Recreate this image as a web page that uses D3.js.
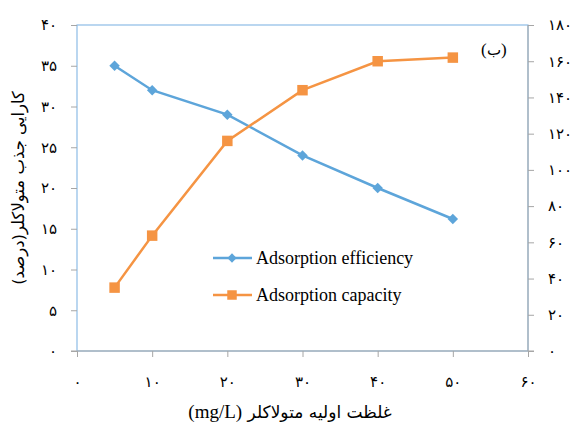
<!DOCTYPE html>
<html>
<head>
<meta charset="utf-8">
<script src="https://cdn.jsdelivr.net/npm/d3@7"></script>
<style>
  body { margin: 0; background: #fff; }
  text { fill: #000; }
</style>
</head>
<body>
<script>
// data
const concentration = [5, 10, 20, 30, 40, 50];
const efficiency = [35, 32, 29, 24, 20, 16.2];
const capacity = [35, 63.7, 116, 144, 160, 162];
const xTicks = [0, 10, 20, 30, 40, 50, 60];
const leftTicks = [0, 5, 10, 15, 20, 25, 30, 35, 40];
const rightTicks = [0, 20, 40, 60, 80, 100, 120, 140, 160, 180];

const W = 579, H = 429;
const m = { left: 77, right: 51, top: 25, bottom: 78 };

const svg = d3.select("body").append("svg")
  .attr("width", W)
  .attr("height", H);

const fa = n => String(n).replace(/\d/g, d => "۰۱۲۳۴۵۶۷۸۹"[d]);

const x = d3.scaleLinear().domain([0, 60]).range([m.left, W - m.right]);
const yL = d3.scaleLinear().domain([0, 40]).range([H - m.bottom, m.top]);
const yR = d3.scaleLinear().domain([0, 180]).range([H - m.bottom, m.top]);

const faFont = "DejaVu Sans, sans-serif";
const enFont = "'Liberation Serif', 'Times New Roman', serif";

// plot frame
svg.append("rect")
  .attr("x", x(0)).attr("y", yL(40))
  .attr("width", x(60) - x(0)).attr("height", yL(0) - yL(40))
  .attr("fill", "none")
  .attr("stroke", "#8DBCE6")
  .attr("stroke-width", 1.2);

function styleAxis(g) {
  g.selectAll("path, line").attr("stroke", "#A6A6A6").attr("stroke-width", 1);
  g.selectAll("text").attr("font-family", faFont).attr("font-size", 15);
}

svg.append("g")
  .attr("transform", `translate(0,${yL(0)})`)
  .call(d3.axisBottom(x).tickValues(xTicks).tickSize(6).tickPadding(19).tickFormat(fa).tickSizeOuter(0))
  .call(styleAxis)
  .call(g => g.select(".domain").attr("d", `M${x(0) - 6},0H${x(60) + 6}`));

svg.append("g")
  .attr("transform", `translate(${x(0)},0)`)
  .call(d3.axisLeft(yL).tickValues(leftTicks).tickSize(6).tickPadding(14).tickFormat(fa).tickSizeOuter(0))
  .call(styleAxis)
  .call(g => g.select(".domain").remove());

svg.append("g")
  .attr("transform", `translate(${x(60)},0)`)
  .call(d3.axisRight(yR).tickValues(rightTicks).tickSize(6).tickPadding(14).tickFormat(fa).tickSizeOuter(0))
  .call(styleAxis)
  .call(g => g.select(".domain").attr("d", `M0,${yR(0)}V${yR(180)}`));

// series
const blue = "#5DA5DA", orange = "#F59443";

const lineL = d3.line().x((d, i) => x(concentration[i])).y(d => yL(d));
const lineR = d3.line().x((d, i) => x(concentration[i])).y(d => yR(d));

svg.append("path").datum(efficiency)
  .attr("d", lineL).attr("fill", "none").attr("stroke", blue).attr("stroke-width", 2.5);
svg.append("path").datum(capacity)
  .attr("d", lineR).attr("fill", "none").attr("stroke", orange).attr("stroke-width", 2.5);

const diamond = d3.symbol().type(d3.symbolDiamond2).size(70);
const square = d3.symbol().type(d3.symbolSquare).size(110);

svg.selectAll(".mk-eff").data(efficiency).join("path")
  .attr("transform", (d, i) => `translate(${x(concentration[i])},${yL(d)})`)
  .attr("d", diamond).attr("fill", blue);
svg.selectAll(".mk-cap").data(capacity).join("path")
  .attr("transform", (d, i) => `translate(${x(concentration[i])},${yR(d)})`)
  .attr("d", square).attr("fill", orange);

// legend
const legend = [
  { name: "Adsorption efficiency", color: blue, sym: d3.symbol().type(d3.symbolDiamond2).size(55), y: 258 },
  { name: "Adsorption capacity", color: orange, sym: d3.symbol().type(d3.symbolSquare).size(90), y: 295 }
];
const lg = svg.append("g");
legend.forEach(l => {
  lg.append("line").attr("x1", 213).attr("x2", 252).attr("y1", l.y).attr("y2", l.y)
    .attr("stroke", l.color).attr("stroke-width", 2.5);
  lg.append("path").attr("transform", `translate(232,${l.y})`)
    .attr("d", l.sym()).attr("fill", l.color);
  lg.append("text").attr("x", 256).attr("y", l.y + 6)
    .style("font-family", enFont).attr("font-size", 18)
    .text(l.name);
});

// panel label "(ب)" as separate glyphs so bidi can't reorder them
const pl = svg.append("g").attr("font-family", faFont).attr("font-size", 15);
pl.append("text").attr("x", 481).attr("y", 55).style("font-family", enFont).attr("font-size", 17).text("(");
pl.append("text").attr("x", 494).attr("y", 55).attr("text-anchor", "middle").text("ب");
pl.append("text").attr("x", 501).attr("y", 55).style("font-family", enFont).attr("font-size", 17).text(")");

// axis titles
svg.append("text")
  .attr("transform", `translate(24,${(yL(0) + yL(40)) / 2}) rotate(-90)`)
  .attr("text-anchor", "middle")
  .attr("font-family", faFont).attr("font-size", 16.5)
  .attr("direction", "rtl")
  .text("کارایی جذب متولاکلر(درصد)");

const xt = svg.append("text")
  .attr("x", 290).attr("y", 418)
  .attr("text-anchor", "middle")
  .attr("font-size", 17);
xt.append("tspan").style("font-family", enFont).attr("font-size", 19).text("(mg/L)");
xt.append("tspan").attr("font-family", faFont).text(" غلظت اولیه متولاکلر");
</script>
</body>
</html>
